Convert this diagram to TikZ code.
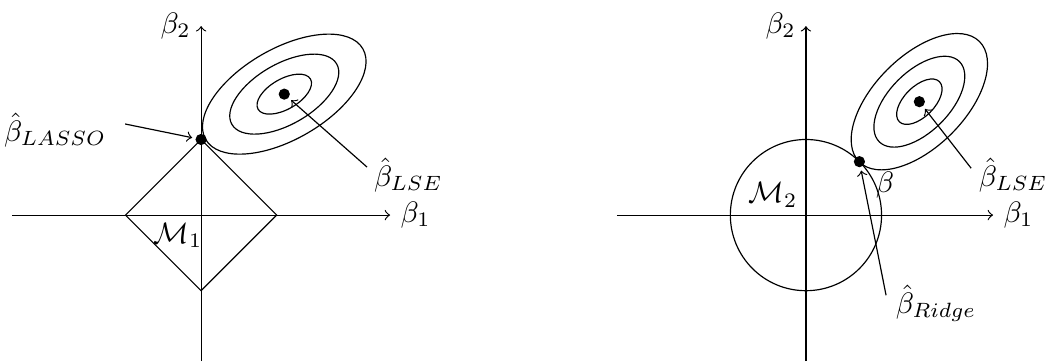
\documentclass[tikz,border=0pt]{standalone}
\usepackage{amsmath,amssymb}
\usetikzlibrary{positioning}

\begin{document}
\begin{tikzpicture}[
  x=0.45cm, y=0.45cm,
  dot/.style={circle, fill, inner sep=0pt, minimum size=3.8pt, outer sep=1.2pt},
  arr/.style={->}]
\useasboundingbox (-5.32,-3.86) rectangle (22.43,5.69);
% lasso: diamond
\draw[arr] (-5,0) -- (5,0) node[right] (b1L) {$\beta_1$};
\draw[arr] (0,-3.86) -- (0,5) node[left] (b2L) {$\beta_2$};
\draw (2,0) -- (0,2) -- (-2,0) -- (0,-2) -- cycle;
\begin{scope}[shift={(2.2,3.2)}, rotate=30]
\foreach \k in {1,2,3}
  \draw (0,0) ellipse ({0.8*\k} and {0.4*\k});
\end{scope}
\node[dot] (lassoPt) at (0,2) {};
\node[dot] (lseL) at (2.2,3.2) {};
\node (lassoLbl) at (-3.86,2.25) {$\hat{\beta}_{LASSO}$};
\coordinate (lassoTail) at (-2.01,2.41);
\draw[arr] (lassoTail) -- (lassoPt);
\node (lseLblL) at (5.48,1.06) {$\hat{\beta}_{LSE}$};
\coordinate (lseTailL) at (4.39,1.27);
\draw[arr] (lseTailL) -- (lseL);
\node (m1) at (-0.61,-0.53) {$\mathcal{M}_1$};
% ridge: circle
\begin{scope}[shift={(16,0)}]
\draw[arr] (-5,0) -- (4.95,0) node[right] (b1R) {$\beta_1$};
\draw[arr] (0,-3.86) -- (0,5) node[left] (b2R) {$\beta_2$};
\draw (0,0) circle (2);
\begin{scope}[shift={(3,3)}, rotate=45]
\foreach \k in {1,2,3}
  \draw (0,0) ellipse ({0.75*\k} and {0.4*\k});
\end{scope}
\node[dot] (ridgePt) at (45:2) {};
\node[dot] (lseR) at (3,3) {};
\node (lseLblR) at (5.48,1.06) {$\hat{\beta}_{LSE}$};
\coordinate (lseTailR) at (4.37,1.24);
\draw[arr] (lseTailR) -- (lseR);
\node (ridgeLbl) at (3.44,-2.33) {$\hat{\beta}_{Ridge}$};
\coordinate (ridgeTail) at (2.12,-2.12);
\draw[arr] (ridgeTail) -- (ridgePt);
\node (m2) at (-0.87,0.53) {$\mathcal{M}_2$};
\node (betaLbl) at (2.09,0.79) {$\beta$};
\end{scope}
\end{tikzpicture}
\end{document}
